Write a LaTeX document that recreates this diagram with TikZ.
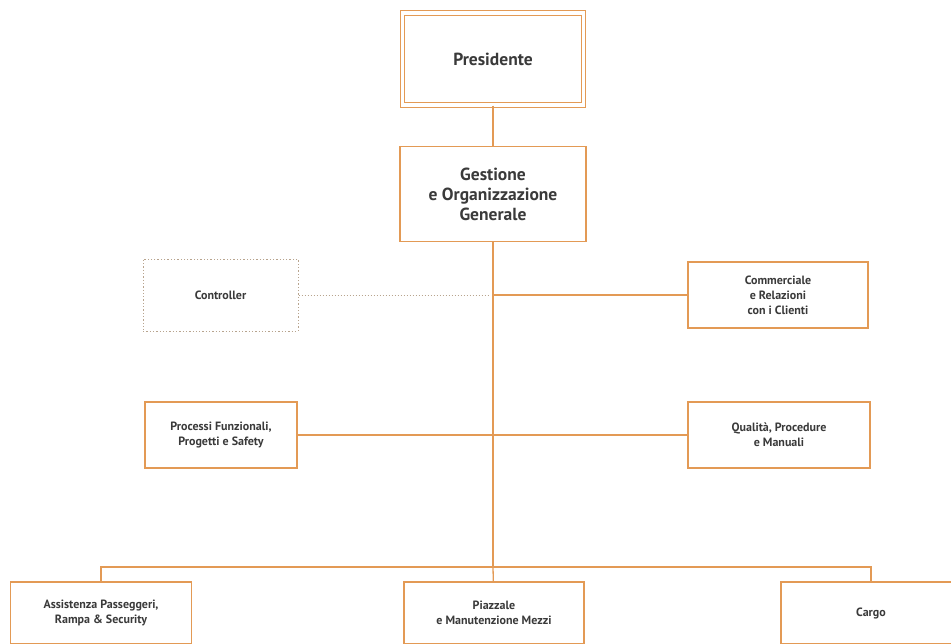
\documentclass[tikz,border=0pt]{standalone}
\usepackage{fontspec}
\setmainfont{PT Sans}
\usepackage{xcolor}
\usepackage{tikz}
\usetikzlibrary{positioning, calc}
\definecolor{orange}{HTML}{E39A55}
\definecolor{ink}{HTML}{3A3A3A}
\definecolor{dots}{HTML}{B8A48E}

\begin{document}
\begin{tikzpicture}[x=1pt, y=-1pt,
  box/.style={rectangle, draw=orange, line width=1.3pt, fill=white, text=ink,
              align=center, font=\bfseries\fontsize{12}{15}\selectfont, inner sep=2pt},
  big/.style={box, font=\bfseries\fontsize{17.5}{20}\selectfont},
  dbox/.style={box, draw=dots, dotted, line width=1pt},
  link/.style={draw=orange, line width=1.3pt},
  dlink/.style={draw=dots, dotted, line width=1pt},
]
\useasboundingbox (0,0) rectangle (951,643);

%% Top
\node[big, double=white, double distance=3.5pt, line width=1.2pt,
      minimum width=181pt, minimum height=92pt] (pres) at (493,59) {Presidente};
\node[big, minimum width=186pt, minimum height=95pt] (gest) at (493,194)
      {Gestione\\e Organizzazione\\Generale};

%% Staff
\node[dbox, minimum width=155pt, minimum height=72pt] (ctrl) at (220.5,295) {Controller};
\node[box, minimum width=180pt, minimum height=66pt] (comm) at (778,295)
      {Commerciale\\e Relazioni\\con i Clienti};
\node[box, minimum width=152pt, minimum height=66pt] (proc) at (221,435)
      {Processi Funzionali,\\Progetti e Safety};
\node[box, minimum width=182pt, minimum height=66pt] (qual) at (779,435)
      {Qualità, Procedure\\e Manuali};

%% Line units
\node[box, minimum width=181pt, minimum height=62pt] (assi) at (101,613)
      {Assistenza Passeggeri,\\Rampa \& Security};
\node[box, minimum width=180pt, minimum height=62pt] (piaz) at (494,613)
      {Piazzale\\e Manutenzione Mezzi};
\node[box, minimum width=180pt, minimum height=62pt] (cargo) at (871,613) {Cargo};

\coordinate (j1) at (493,295);
\coordinate (j3) at (493,567);

%% Connectors
\draw[link] (pres) -- (gest);
\draw[link] (gest) -- (j3);
\draw[link] (j1) -- (comm);
\draw[dlink] (ctrl) -- ($(j1)+(-3,0)$);
\draw[link] (proc) -- (qual);
\draw[link] (assi) |- (j3) -| (cargo);
\draw[link] (j3) -- (piaz);

\end{tikzpicture}
\end{document}
